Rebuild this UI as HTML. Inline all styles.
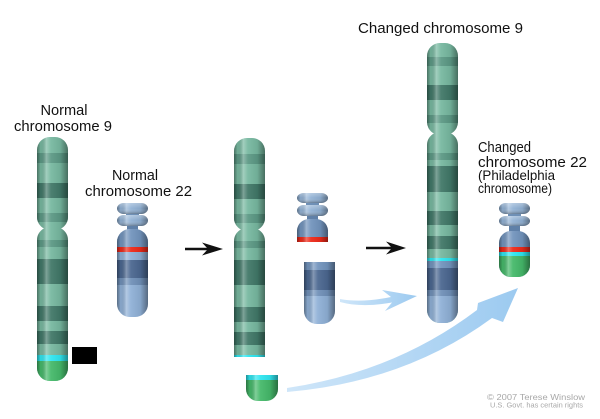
<!DOCTYPE html>
<html><head><meta charset="utf-8"><style>
html,body{margin:0;padding:0;background:#fff;}
svg{display:block;}
text{font-family:"Liberation Sans",Arial,sans-serif;fill:#111;}
</style></head><body>
<svg width="600" height="419" viewBox="0 0 600 419" xmlns="http://www.w3.org/2000/svg">
<defs>
<linearGradient id="sh" x1="0" y1="0" x2="1" y2="0">
<stop offset="0" stop-color="#000" stop-opacity="0.38"/>
<stop offset="0.12" stop-color="#000" stop-opacity="0.06"/>
<stop offset="0.3" stop-color="#fff" stop-opacity="0.32"/>
<stop offset="0.45" stop-color="#fff" stop-opacity="0.06"/>
<stop offset="0.75" stop-color="#000" stop-opacity="0.06"/>
<stop offset="1" stop-color="#000" stop-opacity="0.4"/>
</linearGradient>
<linearGradient id="vsh" x1="0" y1="0" x2="0" y2="1">
<stop offset="0" stop-color="#fff" stop-opacity="0.3"/>
<stop offset="0.5" stop-color="#fff" stop-opacity="0"/>
<stop offset="1" stop-color="#000" stop-opacity="0.3"/>
</linearGradient>
<linearGradient id="bl" x1="0" y1="0" x2="1" y2="0">
<stop offset="0" stop-color="#cfe6f9"/>
<stop offset="1" stop-color="#9ccaf0"/>
</linearGradient>

<clipPath id="c9a">
<rect x="37" y="137" width="31" height="93" rx="13"/>
<rect x="37" y="227" width="31" height="154" rx="13"/>
</clipPath>
<clipPath id="c9b">
<rect x="234" y="138" width="31" height="93" rx="13"/>
<rect x="234" y="228" width="31" height="60" rx="13"/>
<rect x="234" y="245" width="31" height="112"/>
</clipPath>
<clipPath id="c9c">
<rect x="427" y="43" width="31" height="92" rx="13"/>
<rect x="427" y="132" width="31" height="191" rx="13"/>
</clipPath>
<clipPath id="c22a">
<rect x="117" y="229" width="31" height="88" rx="13"/>
</clipPath>
<clipPath id="c22b">
<rect x="297" y="219" width="31" height="30" rx="12"/>
<rect x="297" y="230" width="31" height="12"/>
</clipPath>
<clipPath id="c22c">
<rect x="304" y="262" width="31" height="20"/>
<rect x="304" y="262" width="31" height="62" rx="13"/>
</clipPath>
<clipPath id="c22d">
<rect x="499" y="231" width="31" height="46" rx="12"/>
</clipPath>
<clipPath id="cgp">
<rect x="246" y="375" width="32" height="12"/>
<rect x="246" y="375" width="32" height="26" rx="12"/>
</clipPath>
</defs>

<!-- Labels -->
<text x="64" y="115" font-size="15" text-anchor="middle" textLength="47" lengthAdjust="spacingAndGlyphs">Normal</text>
<text x="14" y="131" font-size="15" textLength="98" lengthAdjust="spacingAndGlyphs">chromosome 9</text>
<text x="135" y="180" font-size="15" text-anchor="middle" textLength="46" lengthAdjust="spacingAndGlyphs">Normal</text>
<text x="85" y="196" font-size="15" textLength="107" lengthAdjust="spacingAndGlyphs">chromosome 22</text>
<text x="358" y="33" font-size="15" textLength="165" lengthAdjust="spacingAndGlyphs">Changed chromosome 9</text>
<text x="478" y="152" font-size="15" textLength="53" lengthAdjust="spacingAndGlyphs">Changed</text>
<text x="478" y="167" font-size="15" textLength="109" lengthAdjust="spacingAndGlyphs">chromosome 22</text>
<text x="478" y="180" font-size="14" textLength="77" lengthAdjust="spacingAndGlyphs">(Philadelphia</text>
<text x="478" y="193" font-size="14" textLength="74" lengthAdjust="spacingAndGlyphs">chromosome)</text>

<!-- Chromosome 9 original -->
<g clip-path="url(#c9a)">
<rect x="37" y="137" width="31" height="244" fill="#77b8a0"/>
<rect x="37" y="153" width="31" height="10" fill="#5c9985"/>
<rect x="37" y="183" width="31" height="15" fill="#417868"/>
<rect x="37" y="213" width="31" height="9" fill="#5c9985"/>
<rect x="37" y="240" width="31" height="7" fill="#5c9985"/>
<rect x="37" y="259" width="31" height="25" fill="#417868"/>
<rect x="37" y="306" width="31" height="15" fill="#417868"/>
<rect x="37" y="331" width="31" height="13" fill="#417868"/>
<rect x="37" y="355" width="31" height="6" fill="#2fe6f0"/>
<rect x="37" y="361" width="31" height="20" fill="#45b96a"/>
<rect x="37" y="137" width="31" height="244" fill="url(#sh)"/>
</g>
<rect x="72" y="347" width="25" height="17" fill="#000"/>

<!-- Chromosome 22 original -->
<g>
<rect x="126" y="211" width="13" height="6" fill="#6f90b6"/>
<rect x="127" y="224" width="11" height="8" fill="#5f80a8"/>
<rect x="117" y="203" width="31" height="11" rx="7" ry="5.5" fill="#8fb0d4"/>
<rect x="117" y="203" width="31" height="11" rx="7" ry="5.5" fill="url(#sh)"/>
<rect x="117" y="203" width="31" height="11" rx="7" ry="5.5" fill="url(#vsh)"/>
<rect x="117" y="215" width="31" height="11" rx="7" ry="5.5" fill="#8fb0d4"/>
<rect x="117" y="215" width="31" height="11" rx="7" ry="5.5" fill="url(#sh)"/>
<rect x="117" y="215" width="31" height="11" rx="7" ry="5.5" fill="url(#vsh)"/>
</g>
<g clip-path="url(#c22a)">
<rect x="117" y="229" width="31" height="88" fill="#8fb0d6"/>
<rect x="117" y="229" width="31" height="18" fill="#7294bd"/>
<rect x="117" y="247" width="31" height="5" fill="#ee2a1a"/>
<rect x="117" y="260" width="31" height="18" fill="#4b6790"/>
<rect x="117" y="278" width="31" height="7" fill="#7090b8"/>
<rect x="117" y="229" width="31" height="88" fill="url(#sh)"/>
</g>

<!-- Black arrows -->
<line x1="185" y1="249" x2="210" y2="249" stroke="#111" stroke-width="2.5"/>
<polygon points="223,249 202,242.5 208,249 202,255.5" fill="#111"/>
<line x1="366" y1="248" x2="394" y2="248" stroke="#111" stroke-width="2.5"/>
<polygon points="406,248 386,241.5 392,248 386,254.5" fill="#111"/>

<!-- Middle chromosome 9 -->
<g clip-path="url(#c9b)">
<rect x="234" y="138" width="31" height="219" fill="#77b8a0"/>
<rect x="234" y="154" width="31" height="10" fill="#5c9985"/>
<rect x="234" y="184" width="31" height="15" fill="#417868"/>
<rect x="234" y="214" width="31" height="9" fill="#5c9985"/>
<rect x="234" y="241" width="31" height="7" fill="#5c9985"/>
<rect x="234" y="260" width="31" height="25" fill="#417868"/>
<rect x="234" y="307" width="31" height="15" fill="#417868"/>
<rect x="234" y="332" width="31" height="13" fill="#417868"/>
<rect x="234" y="355" width="31" height="2" fill="#2fe6f0"/>
<rect x="234" y="138" width="31" height="219" fill="url(#sh)"/>
</g>

<!-- Green piece -->
<g clip-path="url(#cgp)">
<rect x="246" y="375" width="32" height="26" fill="#45b96a"/>
<rect x="246" y="375" width="32" height="5" fill="#2fe6f0"/>
<rect x="246" y="375" width="32" height="26" fill="url(#sh)"/>
</g>

<!-- Middle chromosome 22 top fragment -->
<g>
<rect x="306" y="201" width="13" height="6" fill="#6f90b6"/>
<rect x="307" y="214" width="11" height="8" fill="#5f80a8"/>
<rect x="297" y="193" width="31" height="10" rx="7" ry="5" fill="#8fb0d4"/>
<rect x="297" y="193" width="31" height="10" rx="7" ry="5" fill="url(#sh)"/>
<rect x="297" y="193" width="31" height="10" rx="7" ry="5" fill="url(#vsh)"/>
<rect x="297" y="205" width="31" height="11" rx="7" ry="5.5" fill="#8fb0d4"/>
<rect x="297" y="205" width="31" height="11" rx="7" ry="5.5" fill="url(#sh)"/>
<rect x="297" y="205" width="31" height="11" rx="7" ry="5.5" fill="url(#vsh)"/>
</g>
<g clip-path="url(#c22b)">
<rect x="297" y="219" width="31" height="23" fill="#7294bd"/>
<rect x="297" y="237" width="31" height="5" fill="#ee2a1a"/>
<rect x="297" y="219" width="31" height="23" fill="url(#sh)"/>
</g>

<!-- Middle chromosome 22 lower fragment -->
<g clip-path="url(#c22c)">
<rect x="304" y="262" width="31" height="62" fill="#8fb0d6"/>
<rect x="304" y="262" width="31" height="8" fill="#7294bd"/>
<rect x="304" y="270" width="31" height="20" fill="#4b6790"/>
<rect x="304" y="290" width="31" height="6" fill="#7090b8"/>
<rect x="304" y="262" width="31" height="62" fill="url(#sh)"/>
</g>

<!-- Blue arrows -->
<path d="M340,299 Q362,303 391,297 L382,290 L417,296 L385,311 L392,302.5 Q362,308 340,302 Z" fill="url(#bl)"/>
<path d="M287,388 Q395,372 477,310 L478,303 L518,288 L503,322 L492,318 Q405,382 287,392 Z" fill="url(#bl)"/>

<!-- Changed chromosome 9 -->
<g clip-path="url(#c9c)">
<rect x="427" y="43" width="31" height="280" fill="#77b8a0"/>
<rect x="427" y="57" width="31" height="9" fill="#5c9985"/>
<rect x="427" y="85" width="31" height="15" fill="#417868"/>
<rect x="427" y="115" width="31" height="8" fill="#5c9985"/>
<rect x="427" y="153" width="31" height="7" fill="#5c9985"/>
<rect x="427" y="166" width="31" height="26" fill="#417868"/>
<rect x="427" y="211" width="31" height="14" fill="#417868"/>
<rect x="427" y="236" width="31" height="13" fill="#417868"/>
<rect x="427" y="258" width="31" height="3" fill="#2fe6f0"/>
<rect x="427" y="261" width="31" height="62" fill="#8fb0d6"/>
<rect x="427" y="261" width="31" height="7" fill="#7294bd"/>
<rect x="427" y="268" width="31" height="22" fill="#4b6790"/>
<rect x="427" y="290" width="31" height="6" fill="#7090b8"/>
<rect x="427" y="43" width="31" height="280" fill="url(#sh)"/>
</g>

<!-- Changed chromosome 22 -->
<g>
<rect x="508" y="212" width="13" height="6" fill="#6f90b6"/>
<rect x="509" y="224" width="11" height="9" fill="#5f80a8"/>
<rect x="499" y="203" width="31" height="11" rx="7" ry="5.5" fill="#8fb0d4"/>
<rect x="499" y="203" width="31" height="11" rx="7" ry="5.5" fill="url(#sh)"/>
<rect x="499" y="203" width="31" height="11" rx="7" ry="5.5" fill="url(#vsh)"/>
<rect x="499" y="216" width="31" height="10" rx="7" ry="5" fill="#8fb0d4"/>
<rect x="499" y="216" width="31" height="10" rx="7" ry="5" fill="url(#sh)"/>
<rect x="499" y="216" width="31" height="10" rx="7" ry="5" fill="url(#vsh)"/>
</g>
<g clip-path="url(#c22d)">
<rect x="499" y="231" width="31" height="46" fill="#7294bd"/>
<rect x="499" y="247" width="31" height="5" fill="#ee2a1a"/>
<rect x="499" y="252" width="31" height="4" fill="#2fe6f0"/>
<rect x="499" y="256" width="31" height="21" fill="#45b96a"/>
<rect x="499" y="231" width="31" height="46" fill="url(#sh)"/>
</g>

<!-- Copyright -->
<text x="487" y="400" font-size="8.5" style="fill:#a8a8a8" textLength="98" lengthAdjust="spacingAndGlyphs">© 2007 Terese Winslow</text>
<text x="490" y="407.5" font-size="7.5" style="fill:#a8a8a8" textLength="93" lengthAdjust="spacingAndGlyphs">U.S. Govt. has certain rights</text>
</svg>
</body></html>
